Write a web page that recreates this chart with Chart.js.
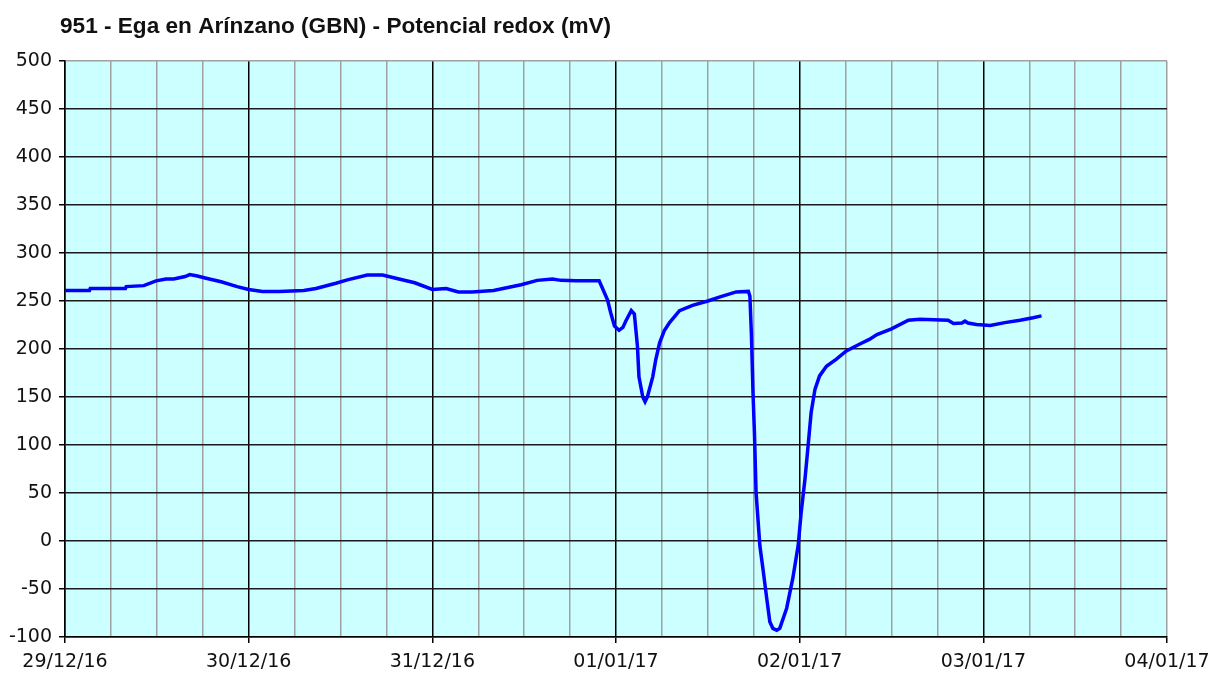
<!DOCTYPE html>
<html>
<head>
<meta charset="utf-8">
<script src="https://cdn.jsdelivr.net/npm/chart.js@4.4.1/dist/chart.umd.min.js"></script>
<style>
html,body{margin:0;padding:0;background:#fff;}
#wrap{width:1211px;height:675px;}
</style>
</head>
<body>
<div id="wrap"><canvas id="c" width="1211" height="675"></canvas></div>
<script>
const chartTitle = "951 - Ega en Arínzano (GBN) - Potencial redox (mV)";
const dayLabels = ["29/12/16","30/12/16","31/12/16","01/01/17","02/01/17","03/01/17","04/01/17"];
// hours since 29/12/16 00:00
const hours = [0,3.2,3.3,7.9,8,10.3,11.9,13.2,14.2,15.7,16.3,17.3,18.3,20.4,22.5,24,25.8,28,31.2,32.8,35.4,36.9,39.5,41.5,43.1,45.7,48,49.8,51.4,53.2,56,59.6,61.7,63.7,64.8,66.8,69.8,70.3,70.9,71.3,71.8,72.4,72.9,73.3,74,74.4,74.8,75,75.5,75.8,76.1,76.8,77.2,77.7,78.3,79,80.3,82,84,85.5,87.7,89.3,89.5,89.7,89.9,90.1,90.3,90.8,91.2,91.7,92.1,92.5,93,93.4,94.3,95.1,95.8,96.2,96.7,97.1,97.5,98,98.6,99.5,100.8,102.1,103.8,105.1,106.1,108,110.2,111.7,115.4,116.1,117.2,117.6,118,119.1,120.9,122.8,124.8,126.5,127.6];
const redox = [261,261,263,263,265,266,271,273,273,275.5,277.5,276,274,270,265,262,260,260,261,263,268.5,272,277,277,274,269,262,263,259.5,259.5,261,267,271.5,273,271.5,271,271,262,251,238,224,219.5,222.5,229.5,240,236.5,203,171,150,145,150,171,189,206.5,219,227.5,240,245.5,250,254,259.5,260,255,214,155,110,51,-5,-29,-60,-84,-91,-93,-91,-70,-39,-5,30,65,99,134,158,172,182,189.5,198,205,210,215,221,230,231,230,226.5,227,229,227,225.5,224.5,227.5,230,232.5,234.5];
const yTicks = [-100,-50,0,50,100,150,200,250,300,350,400,450,500];

const points = hours.map((h,i)=>({x:h,y:redox[i]}));

const bgPlugin = {
  id:'bg',
  beforeDraw(chart){
    const {ctx, chartArea:a} = chart;
    ctx.save();
    ctx.fillStyle = '#CCFFFF';
    ctx.fillRect(a.left, a.top, a.right-a.left, a.bottom-a.top);
    ctx.restore();
  },
  afterDraw(chart){
    const ctx = chart.ctx;
    ctx.save();
    ctx.font = 'bold 22.6px "Liberation Sans", Arial, sans-serif';
    ctx.fillStyle = '#111';
    ctx.textBaseline = 'alphabetic';
    ctx.textAlign = 'left';
    ctx.fillText(chartTitle, 60, 33);
    ctx.restore();
  }
};

new Chart(document.getElementById('c'), {
  type:'line',
  data:{datasets:[{data:points, borderColor:'#0000FF', borderWidth:3.5, pointRadius:0, tension:0, fill:false}]},
  options:{
    responsive:false, animation:false, devicePixelRatio:1,
    layout:{padding:{top:61,left:0,right:44,bottom:0}},
    plugins:{legend:{display:false}, tooltip:{enabled:false}, title:{display:false}},
    scales:{
      x:{
        type:'linear', min:0, max:144,
        afterFit(s){ s.height = 38; s.paddingLeft = 0; s.paddingRight = 0; },
        ticks:{stepSize:6, autoSkip:false, maxRotation:0, padding:8, color:'#111',
          font:{family:'"DejaVu Sans"', size:19},
          callback:(v)=> (v%24===0 ? dayLabels[v/24] : '')},
        grid:{color:(c)=> (c.tick && c.tick.value%24===0 && c.tick.value<144 ? '#000' : '#A0A0A0'),
          tickColor:(c)=> (c.tick && c.tick.value%24===0 ? '#000' : 'rgba(0,0,0,0)'),
          lineWidth:1.5, tickLength:6},
        border:{color:'#000', width:1.5}
      },
      y:{
        min:-100, max:500,
        afterFit(s){ s.width = 65; s.paddingTop = 0; s.paddingBottom = 0; },
        afterBuildTicks(s){ s.ticks = yTicks.map(v=>({value:v})); },
        ticks:{stepSize:50, color:'#111', padding:7, font:{family:'"DejaVu Sans"', size:19}},
        grid:{color:(c)=> (c.tick && c.tick.value===500 ? '#A0A0A0' : '#1a1a1a'), tickColor:'#000', lineWidth:1.5, tickLength:6},
        border:{color:'#000', width:1.5}
      }
    }
  },
  plugins:[bgPlugin]
});
</script>
</body>
</html>
